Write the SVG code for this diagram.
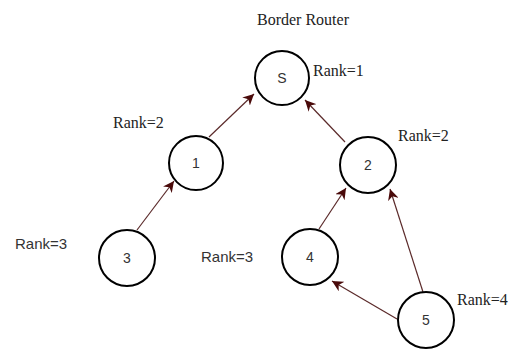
<svg xmlns="http://www.w3.org/2000/svg" width="522" height="349" viewBox="0 0 522 349">
<style>
.node{fill:#fff;stroke:#000;stroke-width:2}
.num{font-family:"Liberation Sans",Arial,sans-serif;font-size:14px;fill:#333;text-anchor:middle}
.serif{font-family:"Liberation Serif","Times New Roman",serif;font-size:16px;fill:#222}
.sans{font-family:"Liberation Sans",Arial,sans-serif;font-size:15px;fill:#333}
.edge{stroke:#5b2a2a;stroke-width:1.2;fill:none;marker-end:url(#arr)}
</style>
<defs>
<marker id="arr" markerUnits="userSpaceOnUse" markerWidth="11" markerHeight="11" refX="10" refY="5" orient="auto" viewBox="0 0 10 10">
<path d="M0,0 L10,5 L0,10 L3,5 Z" fill="#4a0a0a"/>
</marker>
</defs>
<rect width="522" height="349" fill="#fff"/>
<g id="edges">
<line class="edge" x1="137" y1="230" x2="174" y2="181"/>
<line class="edge" x1="209" y1="137" x2="254" y2="94"/>
<line class="edge" x1="345" y1="142" x2="305" y2="100"/>
<line class="edge" x1="319" y1="229" x2="346" y2="188"/>
<line class="edge" x1="423" y1="292" x2="390" y2="189"/>
<line class="edge" x1="397" y1="319" x2="332" y2="281"/>
</g>
<g id="node-S"><circle class="node" cx="282" cy="78" r="27"/><text class="num" x="282" y="83">S</text></g>
<g id="node-1"><circle class="node" cx="196" cy="163" r="27"/><text class="num" x="196" y="168">1</text></g>
<g id="node-2"><circle class="node" cx="368" cy="165" r="28"/><text class="num" x="368" y="170">2</text></g>
<g id="node-3"><circle class="node" cx="127" cy="258" r="28"/><text class="num" x="127" y="263">3</text></g>
<g id="node-4"><circle class="node" cx="310" cy="257" r="28"/><text class="num" x="310" y="262">4</text></g>
<g id="node-5"><circle class="node" cx="426" cy="320" r="28"/><text class="num" x="426" y="325">5</text></g>
<g id="labels">
<text class="serif" x="257" y="25">Border Router</text>
<text class="serif" x="313" y="76">Rank=1</text>
<text class="serif" x="113" y="128">Rank=2</text>
<text class="serif" x="398" y="141">Rank=2</text>
<text class="sans" x="15" y="249">Rank=3</text>
<text class="sans" x="201" y="262">Rank=3</text>
<text class="serif" x="457" y="305">Rank=4</text>
</g>
</svg>
